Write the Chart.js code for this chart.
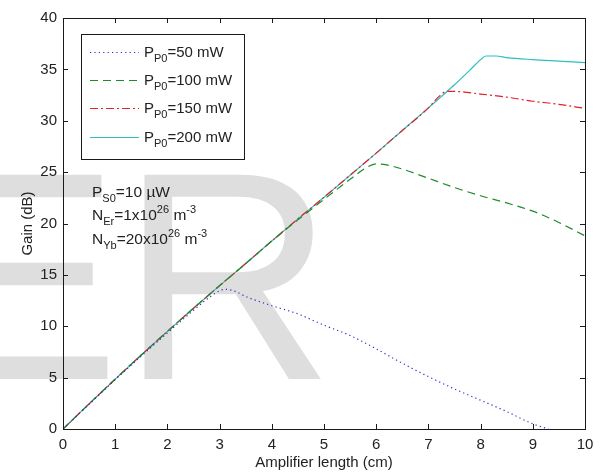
<!DOCTYPE html>
<html>
<head>
<meta charset="utf-8">
<script src="https://cdn.jsdelivr.net/npm/chart.js@4.4.1/dist/chart.umd.min.js"></script>
<style>
  html, body { margin: 0; padding: 0; background: #ffffff; }
  #wrap { width: 602px; height: 473px; position: relative; }
</style>
</head>
<body>
<div id="wrap"><canvas id="c" width="602" height="473"></canvas></div>
<script>
// ---- data ----
const xTicks = [0, 1, 2, 3, 4, 5, 6, 7, 8, 9, 10];
const yTicks = [0, 5, 10, 15, 20, 25, 30, 35, 40];

const seriesNames = ['50 mW', '100 mW', '150 mW', '200 mW'];

const len50  = [0, 0.5, 1, 1.5, 2, 2.5, 2.8, 3.0, 3.1, 3.3, 3.5, 4, 4.5, 5, 5.5, 6, 6.5, 7, 7.5, 8, 8.5, 9, 9.3];
const gain50 = [0, 2.4, 4.8, 7.1, 9.35, 11.55, 12.8, 13.45, 13.6, 13.4, 12.9, 12.0, 11.2, 10.1, 9.1, 7.8, 6.4, 5.1, 3.9, 2.8, 1.7, 0.5, 0];

const len100  = [0, 0.5, 1, 1.5, 2, 2.5, 3, 3.5, 4, 4.5, 5, 5.5, 5.8, 6.0, 6.2, 6.5, 7, 7.5, 8, 8.5, 9, 9.5, 10];
const gain100 = [0, 2.45, 4.85, 7.2, 9.5, 11.75, 13.95, 16.1, 18.3, 20.35, 22.35, 24.3, 25.4, 25.8, 25.7, 25.3, 24.4, 23.5, 22.7, 22.0, 21.2, 20.1, 18.8];

const len150  = [0, 0.5, 1, 1.5, 2, 2.5, 3, 3.5, 4, 4.5, 5, 5.5, 6, 6.5, 7, 7.2, 7.35, 7.5, 8, 8.5, 9, 9.5, 10];
const gain150 = [0, 2.45, 4.85, 7.2, 9.5, 11.75, 13.95, 16.1, 18.3, 20.45, 22.55, 24.7, 26.85, 29.05, 31.25, 32.35, 32.85, 32.85, 32.6, 32.3, 31.9, 31.6, 31.2];

const len200  = [0, 0.5, 1, 1.5, 2, 2.5, 3, 3.5, 4, 4.5, 5, 5.5, 6, 6.5, 7, 7.5, 7.8, 8.0, 8.1, 8.3, 8.5, 9, 9.5, 10];
const gain200 = [0, 2.45, 4.85, 7.2, 9.5, 11.75, 13.95, 16.1, 18.3, 20.45, 22.55, 24.7, 26.85, 29.05, 31.25, 33.5, 34.95, 35.95, 36.3, 36.3, 36.15, 35.95, 35.8, 35.65];

// ---- styles ----
const colors = ['#2b2bd0', '#1f8a2a', '#e0202a', '#2cc0c0'];
const dashes = [[1.2, 3.2], [8, 5], [8, 3, 2, 3], []];
const FONT = '"Liberation Sans", Arial, Helvetica, sans-serif';

function pts(xs, ys) { return xs.map((x, i) => ({ x: x, y: ys[i] })); }
const lens = [len50, len100, len150, len200];
const gains = [gain50, gain100, gain150, gain200];

const datasets = seriesNames.map((n, i) => ({
  label: 'P_P0=' + n,
  data: pts(lens[i], gains[i]),
  borderColor: colors[i],
  borderWidth: 1.2,
  borderDash: dashes[i],
  pointRadius: 0,
  fill: false,
  cubicInterpolationMode: 'monotone'
}));

// rich text helper: segments {t, s:'sub'|'sup'|undefined}
function drawRich(ctx, x, y, segs, size) {
  const small = Math.round(size * 0.72);
  let cx = x;
  ctx.textBaseline = 'alphabetic';
  ctx.textAlign = 'left';
  segs.forEach(s => {
    let fs = size, dy = 0;
    if (s.s === 'sub') { fs = small; dy = size * 0.33; }
    if (s.s === 'sup') { fs = small; dy = -size * 0.45; }
    ctx.font = fs + 'px ' + FONT;
    ctx.fillText(s.t, cx, y + dy);
    cx += ctx.measureText(s.t).width;
  });
}

const decor = {
  id: 'decor',
  beforeDraw(chart) {
    const ctx = chart.ctx;
    ctx.save();
    ctx.fillStyle = '#ffffff';
    ctx.fillRect(0, 0, chart.width, chart.height);
    // faint background watermark
    ctx.fillStyle = '#dedede';
    ctx.font = '297px ' + FONT;
    ctx.textBaseline = 'alphabetic';
    ctx.textAlign = 'left';
    ctx.fillText('ER', -78, 379);
    ctx.restore();
  },
  afterDraw(chart) {
    const ctx = chart.ctx;
    const a = chart.chartArea;
    const xs = chart.scales.x, ys = chart.scales.y;
    ctx.save();
    ctx.strokeStyle = '#1a1a1a';
    ctx.lineWidth = 1;
    ctx.setLineDash([]);
    // frame
    ctx.strokeRect(Math.round(a.left) + 0.5, Math.round(a.top) + 0.5,
                   Math.round(a.right - a.left), Math.round(a.bottom - a.top));
    // inward ticks, all four sides
    const tl = 5;
    ctx.beginPath();
    xTicks.forEach(v => {
      const px = Math.round(xs.getPixelForValue(v)) + 0.5;
      ctx.moveTo(px, a.bottom); ctx.lineTo(px, a.bottom - tl);
      ctx.moveTo(px, a.top); ctx.lineTo(px, a.top + tl);
    });
    yTicks.forEach(v => {
      const py = Math.round(ys.getPixelForValue(v)) + 0.5;
      ctx.moveTo(a.left, py); ctx.lineTo(a.left + tl, py);
      ctx.moveTo(a.right, py); ctx.lineTo(a.right - tl, py);
    });
    ctx.stroke();

    // axis titles
    ctx.fillStyle = '#222';
    ctx.font = '15px ' + FONT;
    ctx.textAlign = 'center';
    ctx.textBaseline = 'middle';
    ctx.fillText('Amplifier length (cm)', (a.left + a.right) / 2, 463);
    ctx.save();
    ctx.translate(28, (a.top + a.bottom) / 2);
    ctx.rotate(-Math.PI / 2);
    ctx.fillText('Gain (dB)', 0, 0);
    ctx.restore();

    // legend box
    const bx = 81, by = 34, bw = 163, bh = 125;
    ctx.fillStyle = '#ffffff';
    ctx.fillRect(bx, by, bw, bh);
    ctx.strokeStyle = '#1a1a1a';
    ctx.strokeRect(bx + 0.5, by + 0.5, bw, bh);
    const rowY = [52, 80, 108, 137];
    seriesNames.forEach((n, i) => {
      const y = rowY[i];
      ctx.strokeStyle = colors[i];
      ctx.lineWidth = 1.2;
      ctx.setLineDash(dashes[i]);
      ctx.beginPath();
      ctx.moveTo(90, y + 0.5); ctx.lineTo(139, y + 0.5);
      ctx.stroke();
      ctx.setLineDash([]);
      ctx.fillStyle = '#222';
      drawRich(ctx, 144, y + 5, [{ t: 'P' }, { t: 'P0', s: 'sub' }, { t: '=' + n }], 15);
    });

    // annotation
    ctx.fillStyle = '#222';
    drawRich(ctx, 92, 197, [{ t: 'P' }, { t: 'S0', s: 'sub' }, { t: '=10 \u00B5W' }], 15.5);
    drawRich(ctx, 92, 220, [{ t: 'N' }, { t: 'Er', s: 'sub' }, { t: '=1x10' }, { t: '26', s: 'sup' }, { t: ' m' }, { t: '-3', s: 'sup' }], 15.5);
    drawRich(ctx, 92, 244, [{ t: 'N' }, { t: 'Yb', s: 'sub' }, { t: '=20x10' }, { t: '26', s: 'sup' }, { t: ' m' }, { t: '-3', s: 'sup' }], 15.5);
    ctx.restore();
  }
};

new Chart(document.getElementById('c'), {
  type: 'line',
  data: { datasets: datasets },
  options: {
    responsive: false,
    animation: false,
    devicePixelRatio: 1,
    layout: { padding: { top: 18, right: 17, left: 0, bottom: 0 } },
    plugins: { legend: { display: false }, tooltip: { enabled: false }, title: { display: false } },
    scales: {
      x: {
        type: 'linear', min: 0, max: 10,
        afterBuildTicks(s) { s.ticks = xTicks.map(v => ({ value: v })); },
        afterFit(s) { s.height = 44; },
        grid: { display: false, drawTicks: false },
        border: { display: false },
        ticks: { padding: 7, color: '#222', font: { family: FONT, size: 15 } }
      },
      y: {
        type: 'linear', min: 0, max: 40,
        afterBuildTicks(s) { s.ticks = yTicks.map(v => ({ value: v })); },
        afterFit(s) { s.width = 63; },
        grid: { display: false, drawTicks: false },
        border: { display: false },
        ticks: { padding: 6, color: '#222', font: { family: FONT, size: 15 } }
      }
    }
  },
  plugins: [decor]
});
</script>
</body>
</html>
